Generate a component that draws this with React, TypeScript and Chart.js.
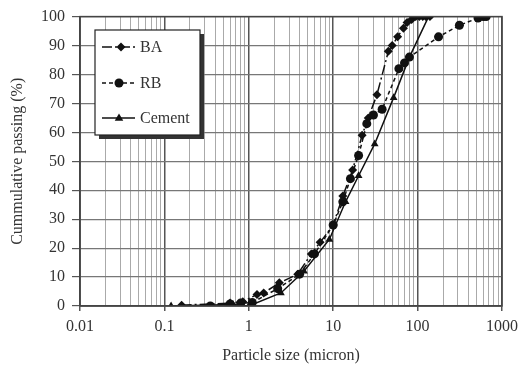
import React, { useEffect, useRef } from "react";
import { Chart, registerables } from "chart.js";

Chart.register(...registerables);

// ---- Data ----
const BA_X = [0.16, 0.6, 0.85, 1.25, 1.5, 2.3, 3.8, 5.5, 7, 10, 13, 17, 22, 26, 33, 45, 50, 58, 68, 75, 85, 95, 105, 115, 125, 140];
const BA_Y = [0.3, 1, 1.5, 4, 4.5, 8, 11, 18, 22, 28, 38, 47, 59, 65, 73, 88, 90, 93, 96, 98, 99, 100, 100, 100, 100, 100];

const RB_X = [0.35, 0.6, 0.8, 1.1, 2.2, 4, 6, 10, 13, 16, 20, 25, 30, 38, 60, 70, 80, 177, 313, 520, 600, 650];
const RB_Y = [0, 0.7, 1, 1.2, 6, 11, 18, 28, 36, 44, 52, 63, 66, 68, 82, 84, 86, 93, 97, 99.5, 100, 100];

const CEMENT_X = [0.12, 0.65, 1.0, 2.4, 4.5, 9, 14, 20, 31, 52, 80, 135];
const CEMENT_Y = [0, 0.5, 0, 4.5, 12, 23, 36, 45, 56, 72, 86, 100];

const SERIES_NAMES = ["BA", "RB", "Cement"];
const X_MAJOR_TICKS = [0.01, 0.1, 1, 10, 100, 1000];
const X_TITLE = "Particle size (micron)";
const Y_TITLE = "Cummulative passing (%)";

const FONT = "'Liberation Serif', 'Times New Roman', serif";
const TEXT_COLOR = "#333";

function pts(xs: number[], ys: number[]) {
  return xs.map((x, i) => ({ x, y: ys[i] }));
}

function isMajor(v: number) {
  const l = Math.log10(v);
  return Math.abs(l - Math.round(l)) < 1e-9;
}

function buildXTicks() {
  const out: number[] = [];
  for (let i = 0; i < X_MAJOR_TICKS.length; i++) {
    const p = X_MAJOR_TICKS[i];
    out.push(p);
    if (i < X_MAJOR_TICKS.length - 1) {
      for (let k = 2; k <= 9; k++) out.push(parseFloat((k * p).toPrecision(6)));
    }
  }
  return out;
}

const DASHES: Record<string, number[]> = {
  BA: [10, 3, 2, 3],
  RB: [4, 3],
  Cement: [],
};
const MARKERS: Record<string, string> = {
  BA: "rectRot",
  RB: "circle",
  Cement: "triangle",
};

function drawMarker(ctx: CanvasRenderingContext2D, style: string, x: number, y: number, r: number) {
  ctx.beginPath();
  if (style === "circle") {
    ctx.arc(x, y, r, 0, Math.PI * 2);
  } else if (style === "rectRot") {
    ctx.moveTo(x, y - r);
    ctx.lineTo(x + r, y);
    ctx.lineTo(x, y + r);
    ctx.lineTo(x - r, y);
    ctx.closePath();
  } else {
    ctx.moveTo(x, y - r);
    ctx.lineTo(x + r * 0.95, y + r * 0.6);
    ctx.lineTo(x - r * 0.95, y + r * 0.6);
    ctx.closePath();
  }
  ctx.fill();
}

const overlayPlugin = {
  id: "overlay",
  afterDraw(chart: any) {
    const ctx: CanvasRenderingContext2D = chart.ctx;
    const ca = chart.chartArea;
    ctx.save();
    ctx.strokeStyle = "#444";
    ctx.lineWidth = 1.5;
    ctx.strokeRect(ca.left, ca.top, ca.right - ca.left, ca.bottom - ca.top);

    ctx.fillStyle = TEXT_COLOR;
    ctx.font = `16px ${FONT}`;
    ctx.textAlign = "center";
    ctx.textBaseline = "middle";
    ctx.fillText(X_TITLE, (ca.left + ca.right) / 2, 356);
    ctx.save();
    ctx.translate(18, (ca.top + ca.bottom) / 2);
    ctx.rotate(-Math.PI / 2);
    ctx.fillText(Y_TITLE, 0, 0);
    ctx.restore();

    const bx = 95, by = 30, bw = 105, bh = 105;
    ctx.fillStyle = "#333";
    ctx.fillRect(bx + 4, by + 4, bw, bh);
    ctx.fillStyle = "#fff";
    ctx.fillRect(bx, by, bw, bh);
    ctx.strokeStyle = "#222";
    ctx.lineWidth = 1.2;
    ctx.strokeRect(bx, by, bw, bh);

    const rows = [47, 83, 118];
    SERIES_NAMES.forEach((name, i) => {
      const y = rows[i];
      ctx.strokeStyle = "#111";
      ctx.fillStyle = "#111";
      ctx.lineWidth = 1.5;
      ctx.setLineDash(DASHES[name]);
      ctx.beginPath();
      ctx.moveTo(102, y);
      ctx.lineTo(135, y);
      ctx.stroke();
      ctx.setLineDash([]);
      drawMarker(ctx, MARKERS[name], name === "BA" ? 121 : 119, y, 4.5);
      ctx.fillStyle = TEXT_COLOR;
      ctx.font = `16px ${FONT}`;
      ctx.textAlign = "left";
      ctx.textBaseline = "middle";
      ctx.fillText(name, 140, y + 1);
    });
    ctx.restore();
  },
};

export default function App() {
  const ref = useRef<HTMLCanvasElement | null>(null);

  useEffect(() => {
    if (!ref.current) return;
    const xTicks = buildXTicks();
    const mk = (name: string, xs: number[], ys: number[]) => ({
      label: name,
      data: pts(xs, ys),
      borderColor: "#111",
      backgroundColor: "#111",
      borderWidth: 1.5,
      borderDash: DASHES[name],
      pointStyle: MARKERS[name],
      pointRadius: 4.5,
      pointBorderWidth: 0,
      pointBackgroundColor: "#111",
      fill: false,
      tension: 0,
    });
    const chart = new Chart(ref.current, {
      type: "line",
      data: {
        datasets: [
          mk("Cement", CEMENT_X, CEMENT_Y),
          mk("RB", RB_X, RB_Y),
          mk("BA", BA_X, BA_Y),
        ],
      },
      options: {
        animation: false,
        responsive: false,
        devicePixelRatio: 1,
        layout: { padding: { top: 15, right: 18, left: 0, bottom: 0 } },
        plugins: {
          legend: { display: false },
          tooltip: { enabled: false },
        },
        scales: {
          x: {
            type: "logarithmic",
            min: 0.01,
            max: 1000,
            afterBuildTicks: (scale: any) => {
              scale.ticks = xTicks.map((v) => ({ value: v, major: isMajor(v) }));
            },
            afterFit: (scale: any) => {
              scale.height = 67;
            },
            grid: {
              color: (c: any) => (c.tick && isMajor(c.tick.value) ? "#555" : "#aaa"),
              lineWidth: (c: any) => (c.tick && isMajor(c.tick.value) ? 1.5 : 1),
              tickColor: (c: any) => (c.tick && isMajor(c.tick.value) ? "#555" : "rgba(0,0,0,0)"),
              tickLength: 5,
              drawTicks: true,
            },
            border: { display: true, color: "#444", width: 1.5 },
            ticks: {
              autoSkip: false,
              maxRotation: 0,
              minRotation: 0,
              padding: 6,
              color: TEXT_COLOR,
              font: { family: FONT, size: 16 },
              callback: (v: any) => {
                const n = Number(v);
                return isMajor(n) ? String(parseFloat(n.toPrecision(6))) : "";
              },
            },
          },
          y: {
            type: "linear",
            min: 0,
            max: 100,
            afterFit: (scale: any) => {
              scale.width = 80;
            },
            grid: {
              color: "#777",
              lineWidth: 1.2,
              tickColor: "#555",
              tickLength: 8,
            },
            border: { display: true, color: "#444", width: 1.5 },
            ticks: {
              stepSize: 10,
              padding: 7,
              color: TEXT_COLOR,
              font: { family: FONT, size: 16 },
            },
          },
        },
      },
      plugins: [overlayPlugin],
    } as any);
    return () => chart.destroy();
  }, []);

  return (
    <div style={{ position: "fixed", left: 0, top: 0, width: 524, height: 373, background: "#fff" }}>
      <canvas ref={ref} width={524} height={373} style={{ width: 524, height: 373 }} />
    </div>
  );
}
